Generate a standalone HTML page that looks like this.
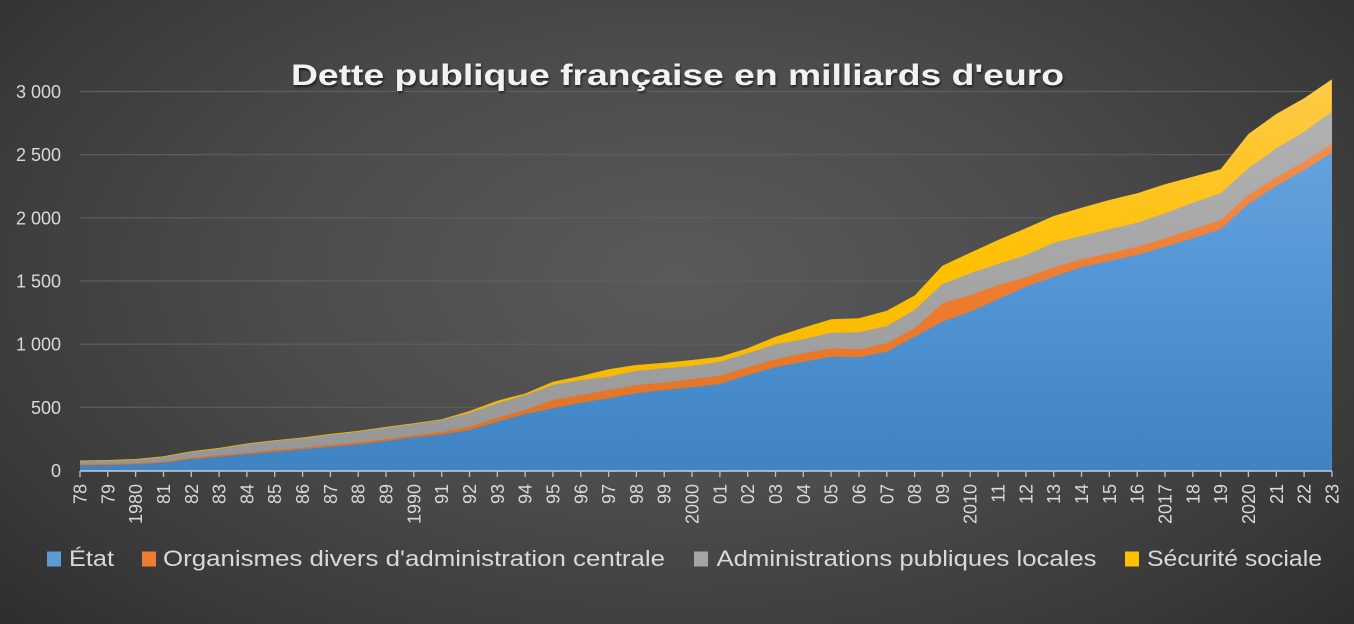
<!DOCTYPE html>
<html>
<head>
<meta charset="utf-8">
<style>
html,body{margin:0;padding:0;}
body{width:1354px;height:624px;overflow:hidden;
background:radial-gradient(ellipse 72% 88% at 50% 44%, #5a5a5a 0%, #4c4c4c 40%, #3a3a3a 75%, #2a2a2a 100%);}
svg{display:block;}
text{font-family:"Liberation Sans",sans-serif;}
</style>
</head>
<body>
<svg width="1354" height="624" viewBox="0 0 1354 624" xmlns="http://www.w3.org/2000/svg">
<defs>
<linearGradient id="gb" gradientUnits="userSpaceOnUse" x1="0" y1="80" x2="0" y2="471">
<stop offset="0" stop-color="#6ea9e0"/><stop offset="0.5" stop-color="#5496d6"/><stop offset="1" stop-color="#3f83c3"/>
</linearGradient>
<linearGradient id="go" gradientUnits="userSpaceOnUse" x1="0" y1="80" x2="0" y2="471">
<stop offset="0" stop-color="#f3965c"/><stop offset="0.5" stop-color="#ee7d32"/><stop offset="1" stop-color="#e0701f"/>
</linearGradient>
<linearGradient id="gg" gradientUnits="userSpaceOnUse" x1="0" y1="80" x2="0" y2="471">
<stop offset="0" stop-color="#b4b4b4"/><stop offset="0.5" stop-color="#a5a5a5"/><stop offset="1" stop-color="#959595"/>
</linearGradient>
<linearGradient id="gy" gradientUnits="userSpaceOnUse" x1="0" y1="80" x2="0" y2="471">
<stop offset="0" stop-color="#ffca48"/><stop offset="0.5" stop-color="#ffc000"/><stop offset="1" stop-color="#f0b400"/>
</linearGradient>
<filter id="sh" x="-5%" y="-30%" width="110%" height="160%">
<feDropShadow dx="1" dy="2" stdDeviation="1.2" flood-color="#000" flood-opacity="0.6"/>
</filter>
</defs>

<!-- gridlines -->
<g stroke="#5f5f5f" stroke-width="1.2">
<line x1="80" y1="91.5" x2="1332" y2="91.5"/>
<line x1="80" y1="154.7" x2="1332" y2="154.7"/>
<line x1="80" y1="217.8" x2="1332" y2="217.8"/>
<line x1="80" y1="281" x2="1332" y2="281"/>
<line x1="80" y1="344.2" x2="1332" y2="344.2"/>
<line x1="80" y1="407.3" x2="1332" y2="407.3"/>
</g>

<!-- areas -->
<polygon fill="url(#gy)" points="80,460.5 107.8,460 135.6,459 163.5,456.3 191.3,451.2 219.1,447.9 246.9,443.5 274.7,440.2 302.6,437.5 330.4,433.9 358.2,430.9 386,426.9 413.8,423.2 441.7,419.2 469.5,411 497.3,400.7 525.1,393.5 552.9,381.7 580.8,376 608.6,369.3 636.4,365 664.2,362.7 692,360 719.9,356.7 747.7,348.3 775.5,336.7 803.3,327.7 831.1,319.3 859,318.3 886.8,310.7 914.6,295.5 942.4,265.7 970.2,252.7 998.1,240 1025.9,228.3 1053.7,216 1081.5,207.7 1109.3,200 1137.2,193.3 1165,184.3 1192.8,176.7 1220.6,169.3 1248.4,134 1276.3,114 1304.1,98.3 1331.9,79.3 1331.9,470.5 80,470.5"/>
<polygon fill="url(#gg)" points="80,461.3 107.8,460.7 135.6,459.7 163.5,457 191.3,452 219.1,448.7 246.9,444.3 274.7,441 302.6,438.3 330.4,434.7 358.2,431.7 386,427.7 413.8,424 441.7,420 469.5,412.7 497.3,403.3 525.1,395 552.9,385 580.8,380 608.6,376.7 636.4,370.7 664.2,368.3 692,366 719.9,361.7 747.7,353.3 775.5,344.3 803.3,339.3 831.1,332.7 859,332.3 886.8,326 914.6,310 942.4,284 970.2,273.3 998.1,264 1025.9,255 1053.7,242.7 1081.5,236 1109.3,229.3 1137.2,222.7 1165,213.3 1192.8,202.7 1220.6,193.3 1248.4,168.3 1276.3,148.3 1304.1,131.7 1331.9,111.7 1331.9,470.5 80,470.5"/>
<polygon fill="url(#go)" points="80,464.3 107.8,464 135.6,463.3 163.5,461.7 191.3,457.7 219.1,455.3 246.9,452.7 274.7,450 302.6,447.7 330.4,445 358.2,442.3 386,439 413.8,435.3 441.7,432 469.5,426.7 497.3,417.7 525.1,410 552.9,400 580.8,395 608.6,390 636.4,385 664.2,382.7 692,379.3 719.9,375.7 747.7,367.3 775.5,359.3 803.3,353.3 831.1,348.3 859,349.3 886.8,343.3 914.6,328.3 942.4,303.3 970.2,295 998.1,285 1025.9,277.3 1053.7,267.3 1081.5,259.3 1109.3,253.3 1137.2,246.7 1165,238.3 1192.8,229.3 1220.6,220 1248.4,195 1276.3,177.3 1304.1,161.7 1331.9,144 1331.9,470.5 80,470.5"/>
<polygon fill="url(#gb)" points="80,465.3 107.8,465 135.6,464.3 163.5,462.7 191.3,459 219.1,456.7 246.9,454 274.7,451.7 302.6,449.3 330.4,446.7 358.2,444.3 386,441 413.8,437.3 441.7,434.5 469.5,430 497.3,421.7 525.1,414 552.9,408.3 580.8,402.7 608.6,398.3 636.4,393.3 664.2,390 692,387.3 719.9,384 747.7,375 775.5,367.3 803.3,361.7 831.1,356.7 859,357.3 886.8,351.7 914.6,336.7 942.4,321.7 970.2,311.7 998.1,299.3 1025.9,286.7 1053.7,276.7 1081.5,267.3 1109.3,261 1137.2,255 1165,246.7 1192.8,238.3 1220.6,229.3 1248.4,204 1276.3,186 1304.1,170 1331.9,152.7 1331.9,470.5 80,470.5"/>

<!-- axis -->
<line x1="80" y1="471" x2="1332" y2="471" stroke="#c3cdd8" stroke-width="1.6"/>
<path stroke="#c0c0c0" stroke-width="1.3" fill="none" d="M80,471V477M107.8,471V477M135.6,471V477M163.5,471V477M191.3,471V477M219.1,471V477M246.9,471V477M274.7,471V477M302.6,471V477M330.4,471V477M358.2,471V477M386,471V477M413.8,471V477M441.7,471V477M469.5,471V477M497.3,471V477M525.1,471V477M552.9,471V477M580.8,471V477M608.6,471V477M636.4,471V477M664.2,471V477M692,471V477M719.9,471V477M747.7,471V477M775.5,471V477M803.3,471V477M831.1,471V477M859,471V477M886.8,471V477M914.6,471V477M942.4,471V477M970.2,471V477M998.1,471V477M1025.9,471V477M1053.7,471V477M1081.5,471V477M1109.3,471V477M1137.2,471V477M1165,471V477M1192.8,471V477M1220.6,471V477M1248.4,471V477M1276.3,471V477M1304.1,471V477M1331.9,471V477"/>

<!-- y labels -->
<g fill="#d9d9d9" font-size="18" text-anchor="end">
<text x="61" y="98">3 000</text>
<text x="61" y="161.2">2 500</text>
<text x="61" y="224.3">2 000</text>
<text x="61" y="287.5">1 500</text>
<text x="61" y="350.7">1 000</text>
<text x="61" y="413.8">500</text>
<text x="61" y="477">0</text>
</g>

<!-- x labels -->
<g fill="#d9d9d9" font-size="18" text-anchor="end">
<text transform="translate(86.5,484) rotate(-90)">78</text>
<text transform="translate(114.3,484) rotate(-90)">79</text>
<text transform="translate(142.1,484) rotate(-90)">1980</text>
<text transform="translate(170,484) rotate(-90)">81</text>
<text transform="translate(197.8,484) rotate(-90)">82</text>
<text transform="translate(225.6,484) rotate(-90)">83</text>
<text transform="translate(253.4,484) rotate(-90)">84</text>
<text transform="translate(281.2,484) rotate(-90)">85</text>
<text transform="translate(309.1,484) rotate(-90)">86</text>
<text transform="translate(336.9,484) rotate(-90)">87</text>
<text transform="translate(364.7,484) rotate(-90)">88</text>
<text transform="translate(392.5,484) rotate(-90)">89</text>
<text transform="translate(420.3,484) rotate(-90)">1990</text>
<text transform="translate(448.2,484) rotate(-90)">91</text>
<text transform="translate(476,484) rotate(-90)">92</text>
<text transform="translate(503.8,484) rotate(-90)">93</text>
<text transform="translate(531.6,484) rotate(-90)">94</text>
<text transform="translate(559.4,484) rotate(-90)">95</text>
<text transform="translate(587.3,484) rotate(-90)">96</text>
<text transform="translate(615.1,484) rotate(-90)">97</text>
<text transform="translate(642.9,484) rotate(-90)">98</text>
<text transform="translate(670.7,484) rotate(-90)">99</text>
<text transform="translate(698.5,484) rotate(-90)">2000</text>
<text transform="translate(726.4,484) rotate(-90)">01</text>
<text transform="translate(754.2,484) rotate(-90)">02</text>
<text transform="translate(782,484) rotate(-90)">03</text>
<text transform="translate(809.8,484) rotate(-90)">04</text>
<text transform="translate(837.6,484) rotate(-90)">05</text>
<text transform="translate(865.5,484) rotate(-90)">06</text>
<text transform="translate(893.3,484) rotate(-90)">07</text>
<text transform="translate(921.1,484) rotate(-90)">08</text>
<text transform="translate(948.9,484) rotate(-90)">09</text>
<text transform="translate(976.7,484) rotate(-90)">2010</text>
<text transform="translate(1004.6,484) rotate(-90)">11</text>
<text transform="translate(1032.4,484) rotate(-90)">12</text>
<text transform="translate(1060.2,484) rotate(-90)">13</text>
<text transform="translate(1088,484) rotate(-90)">14</text>
<text transform="translate(1115.8,484) rotate(-90)">15</text>
<text transform="translate(1143.7,484) rotate(-90)">16</text>
<text transform="translate(1171.5,484) rotate(-90)">2017</text>
<text transform="translate(1199.3,484) rotate(-90)">18</text>
<text transform="translate(1227.1,484) rotate(-90)">19</text>
<text transform="translate(1254.9,484) rotate(-90)">2020</text>
<text transform="translate(1282.8,484) rotate(-90)">21</text>
<text transform="translate(1310.6,484) rotate(-90)">22</text>
<text transform="translate(1338.4,484) rotate(-90)">23</text>
</g>

<!-- title -->
<text x="291" y="85" font-size="30" font-weight="bold" fill="#f2f2f2" textLength="773" lengthAdjust="spacingAndGlyphs" filter="url(#sh)">Dette publique française en milliards d'euro</text>

<!-- legend -->
<rect x="47" y="551.5" width="14" height="15" fill="#5b9bd5"/>
<text x="69" y="566" font-size="22" fill="#d9d9d9" textLength="45" lengthAdjust="spacingAndGlyphs">État</text>
<rect x="142" y="551.5" width="14" height="15" fill="#ed7d31"/>
<text x="163" y="566" font-size="22" fill="#d9d9d9" textLength="502" lengthAdjust="spacingAndGlyphs">Organismes divers d'administration centrale</text>
<rect x="694" y="551.5" width="14" height="15" fill="#a5a5a5"/>
<text x="716.5" y="566" font-size="22" fill="#d9d9d9" textLength="380" lengthAdjust="spacingAndGlyphs">Administrations publiques locales</text>
<rect x="1125" y="551.5" width="14" height="15" fill="#ffc000"/>
<text x="1147" y="566" font-size="22" fill="#d9d9d9" textLength="175" lengthAdjust="spacingAndGlyphs">Sécurité sociale</text>
</svg>
</body>
</html>
